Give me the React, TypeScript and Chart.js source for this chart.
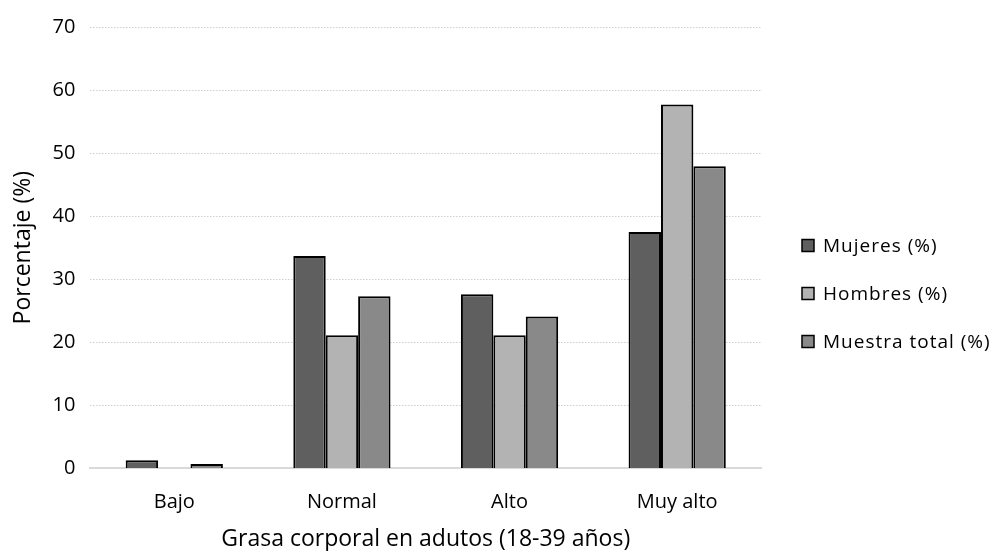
import React, { useEffect, useRef } from "react";
import { Chart, registerables } from "chart.js";

Chart.register(...registerables);

const categories = ["Bajo", "Normal", "Alto", "Muy alto"];
const seriesNames = ["Mujeres (%)", "Hombres (%)", "Muestra total (%)"];
const mujeres = [1.3, 33.7, 27.6, 37.5];
const hombres = [0, 21.1, 21.1, 57.7];
const muestraTotal = [0.7, 27.3, 24.1, 47.9];
const seriesColors = ["#5f5f5f", "#b3b3b3", "#898989"];
const yTicks = [0, 10, 20, 30, 40, 50, 60, 70];

const FONT = "'Open Sans', 'Noto Sans', sans-serif";

// Legend drawn to the right of the plot, as a vertical list of swatches.
const sideLegend = {
  id: "sideLegend",
  afterDraw(chart: any) {
    const { ctx, chartArea } = chart;
    const x0 = chartArea.right + 41;
    const step = 48;
    const midY = chart.height / 2 + 18;
    const n = chart.data.datasets.length;
    ctx.save();
    ctx.font = `19px ${FONT}`;
    (ctx as any).letterSpacing = "1px";
    ctx.textBaseline = "middle";
    ctx.textAlign = "left";
    chart.data.datasets.forEach((ds: any, i: number) => {
      const y = midY + (i - (n - 1) / 2) * step;
      ctx.fillStyle = ds.backgroundColor;
      ctx.fillRect(x0, y - 6, 12, 12);
      ctx.lineWidth = 1.5;
      ctx.strokeStyle = "#000";
      ctx.strokeRect(x0, y - 6, 12, 12);
      ctx.fillStyle = "#000";
      ctx.fillText(ds.label, x0 + 21, y + 1);
    });
    ctx.restore();
  },
};

export default function App() {
  const ref = useRef<HTMLCanvasElement | null>(null);

  useEffect(() => {
    if (!ref.current) return;
    const values = [mujeres, hombres, muestraTotal];
    const chart = new Chart(ref.current, {
      type: "bar",
      data: {
        labels: categories,
        datasets: seriesNames.map((name, i) => ({
          label: name,
          data: values[i],
          backgroundColor: seriesColors[i],
          borderColor: "#000",
          borderWidth: 2,
          categoryPercentage: 0.58,
          barPercentage: 1,
        })),
      },
      options: {
        responsive: false,
        animation: false,
        layout: { padding: { left: 10, right: 231, top: 2, bottom: -2 } },
        plugins: {
          legend: { display: false },
          tooltip: { enabled: false },
        },
        scales: {
          x: {
            grid: { display: false, drawTicks: true, tickLength: 11 },
            border: { display: true, color: "#d9d9d9", width: 2 },
            ticks: { color: "#000", font: { family: FONT, size: 20 }, padding: 11 },
            title: {
              display: true,
              text: "Grasa corporal en adutos (18-39 años)",
              color: "#000",
              font: { family: FONT, size: 23 },
              padding: { top: 0, bottom: 0 },
            },
          },
          y: {
            min: 0,
            max: 70,
            afterBuildTicks: (scale: any) => {
              scale.ticks = yTicks.map((v) => ({ value: v }));
            },
            grid: {
              color: "#cfcfcf",
              lineWidth: 1,
              drawTicks: false,
            },
            border: { display: false, dash: [1.5, 1.5] },
            ticks: { color: "#000", font: { family: FONT, size: 20 }, padding: 15 },
            title: {
              display: true,
              text: "Porcentaje (%)",
              color: "#000",
              font: { family: FONT, size: 23 },
              padding: { top: 0, bottom: 0 },
            },
          },
        },
      },
      plugins: [sideLegend],
    });
    return () => chart.destroy();
  }, []);

  return (
    <div style={{ position: "absolute", left: 0, top: 0, width: 992, height: 551, background: "#fff" }}>
      <canvas ref={ref} width={992} height={551} />
    </div>
  );
}
